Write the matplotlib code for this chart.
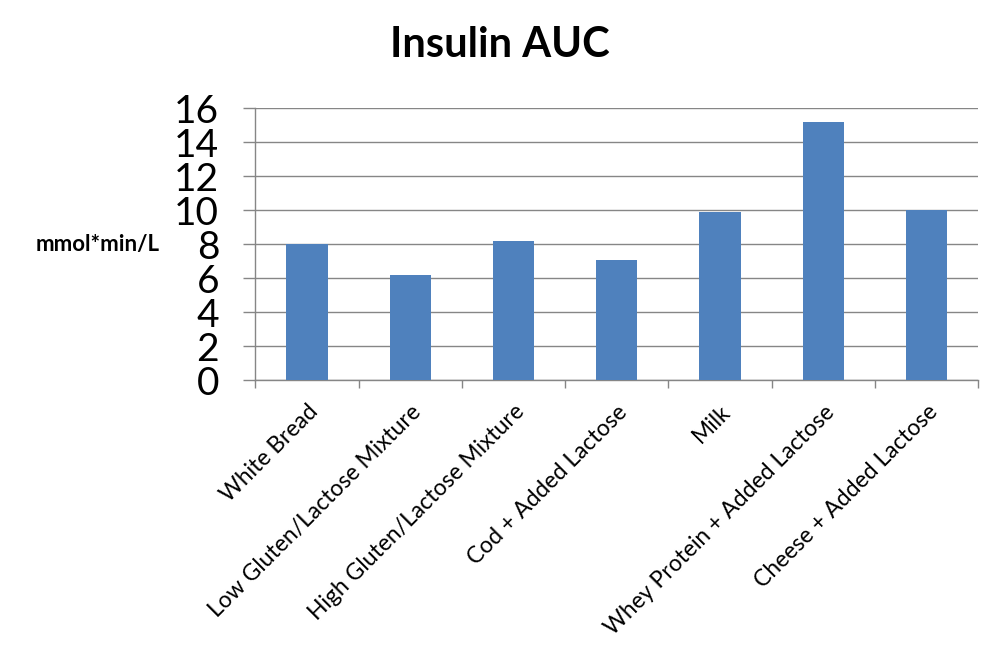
import numpy as np
import matplotlib
matplotlib.use("Agg")
import matplotlib.pyplot as plt

foods = ["White Bread", "Low Gluten/Lactose Mixture", "High Gluten/Lactose Mixture",
         "Cod + Added Lactose", "Milk", "Whey Protein + Added Lactose",
         "Cheese + Added Lactose"]
insulin_auc = [8.0, 6.2, 8.2, 7.1, 9.9, 15.2, 10.0]
y_ticks = [0, 2, 4, 6, 8, 10, 12, 14, 16]

plt.rcParams['font.family'] = ['Lato', 'DejaVu Sans']
grey = "#868686"

fig = plt.figure(figsize=(10.02, 6.69), dpi=100)
ax = fig.add_axes([0.2548, 0.4316, 0.7216, 0.4064])

x = np.arange(len(foods))
ax.bar(x, insulin_auc, width=0.4, color="#4F81BD", zorder=3)

ax.set_xlim(-0.5, len(foods) - 0.5)
ax.set_ylim(0, 16)
ax.set_yticks(y_ticks)
ax.set_yticklabels([str(v) for v in y_ticks], fontsize=28)
ax.yaxis.grid(True, color=grey, linewidth=1.0, zorder=0)
ax.tick_params(axis="y", length=9, width=1.0, color=grey, pad=17)

# labels at bar centres, tick marks between categories
ax.set_xticks(x)
ax.set_xticklabels(foods, rotation=45, ha="right", va="top",
                   rotation_mode="anchor", fontsize=16.5)
ax.tick_params(axis="x", which="major", length=0, pad=15)
ax.set_xticks(np.arange(len(foods) + 1) - 0.5, minor=True)
ax.tick_params(axis="x", which="minor", length=6, width=1.0, color=grey)

for s in ["top", "right"]:
    ax.spines[s].set_visible(False)
for s in ["left", "bottom"]:
    ax.spines[s].set_color(grey)
    ax.spines[s].set_linewidth(1.0)

fig.text(0.499, 0.932, "Insulin AUC", ha="center", va="center",
         fontsize=30, fontweight="bold")
fig.text(0.097, 0.634, "mmol*min/L", ha="center", va="center",
         fontsize=16, fontweight="bold")

fig.savefig("out.png", dpi=100)
